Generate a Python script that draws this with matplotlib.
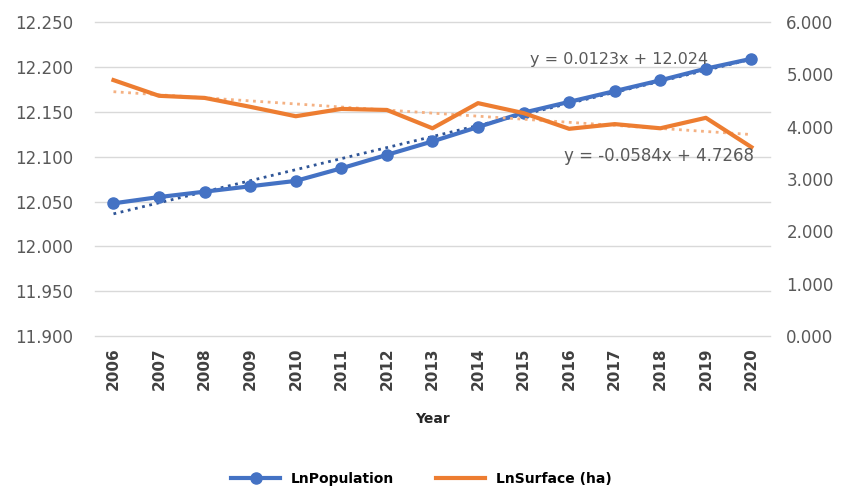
import matplotlib.pyplot as plt
import numpy as np

years = [2006, 2007, 2008, 2009, 2010, 2011, 2012, 2013, 2014, 2015, 2016, 2017, 2018, 2019, 2020]
ln_population = [12.048, 12.055, 12.061, 12.067, 12.073, 12.087, 12.102, 12.117,
                 12.133, 12.149, 12.161, 12.173, 12.185, 12.198, 12.209]
ln_surface = [4.89, 4.59, 4.55, 4.38, 4.20, 4.34, 4.32, 3.97,
              4.45, 4.26, 3.96, 4.05, 3.97, 4.17, 3.61]

# Linear trend coefficients as shown on the chart (x = 1..15)
pop_slope, pop_icpt = 0.0123, 12.024
surf_slope, surf_icpt = -0.0584, 4.7268

left_ticks = [11.900, 11.950, 12.000, 12.050, 12.100, 12.150, 12.200, 12.250]
right_ticks = [0, 1, 2, 3, 4, 5, 6]

blue = '#4472C4'
orange = '#ED7D31'
grey = '#595959'

fig = plt.figure(figsize=(8.43, 4.88), dpi=100)
ax = fig.add_axes([0.113, 0.311, 0.8, 0.644])
ax2 = ax.twinx()

idx = np.arange(1, len(years) + 1)

# Trendlines
ax.plot(idx, pop_slope * idx + pop_icpt, ':', color='#2F5597', lw=2, zorder=2)
ax2.plot(idx, surf_slope * idx + surf_icpt, ':', color='#F4B183', lw=2, zorder=2)

# Series
l1, = ax.plot(idx, ln_population, '-o', color=blue, lw=3, ms=8, zorder=3,
              label='LnPopulation')
l2, = ax2.plot(idx, ln_surface, '-', color=orange, lw=3, zorder=3,
               label='LnSurface (ha)')

ax.set_ylim(11.900, 12.250)
ax.set_yticks(left_ticks)
ax.set_yticklabels(['%.3f' % v for v in left_ticks])
ax2.set_ylim(0, 6)
ax2.set_yticks(right_ticks)
ax2.set_yticklabels(['%.3f' % v for v in right_ticks])

ax.set_xlim(0.6, len(years) + 0.4)
ax.set_xticks(idx)
ax.set_xticklabels([str(y) for y in years], rotation=90)

ax.grid(axis='y', color='#D9D9D9', lw=1)
for gl in ax.get_ygridlines():
    gl.set_clip_on(False)
ax.set_axisbelow(True)
for a in (ax, ax2):
    for s in a.spines.values():
        s.set_visible(False)
    a.tick_params(length=0, labelsize=12, labelcolor=grey)
ax.tick_params(axis='y', pad=16)
ax2.tick_params(axis='y', pad=12)
ax.tick_params(axis='x', pad=8, labelsize=11, labelcolor='#404040')
for lab in ax.get_xticklabels():
    lab.set_fontweight('bold')

ax.set_xlabel('Year', fontsize=10, fontweight='bold', color='#262626', labelpad=16)

ax2.text(14.05, 5.28, 'y = 0.0123x + 12.024', fontsize=11.5, color=grey,
         ha='right', va='center')
ax2.text(15.05, 3.45, 'y = -0.0584x + 4.7268', fontsize=12, color=grey,
         ha='right', va='center')

fig.legend(handles=[l1, l2], loc='center', bbox_to_anchor=(0.5, 0.018),
           ncol=2, frameon=False, prop={'weight': 'bold', 'size': 10},
           handlelength=3.5, columnspacing=3)

fig.savefig('out.png', dpi=100)
